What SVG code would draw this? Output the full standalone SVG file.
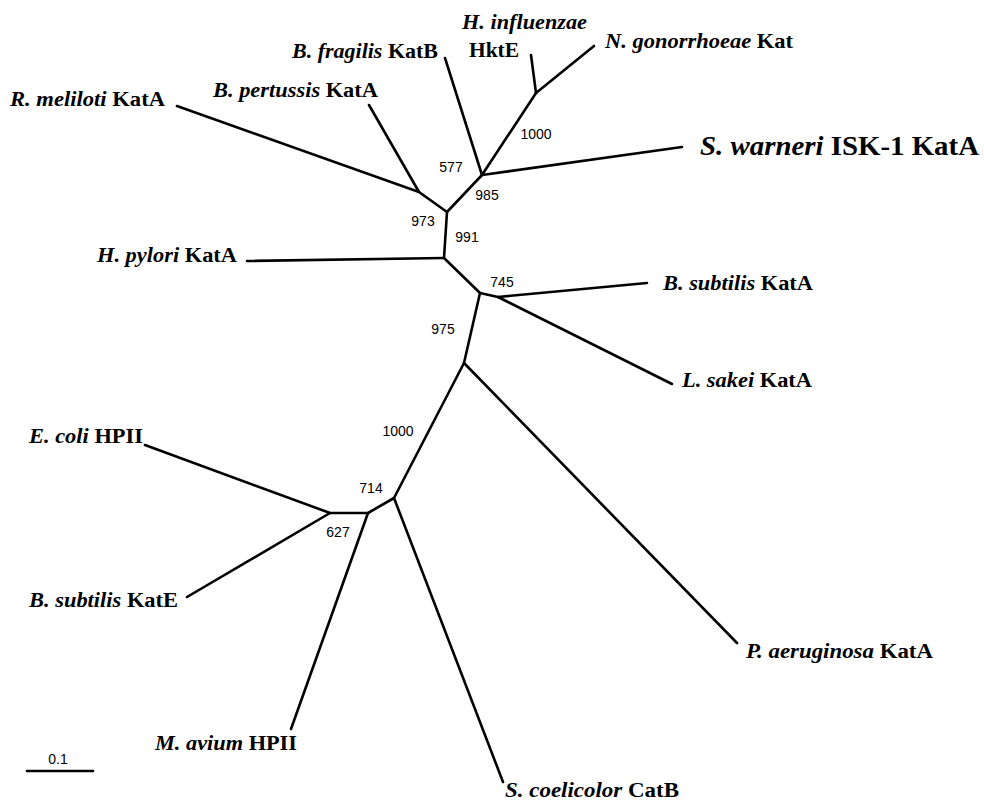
<svg xmlns="http://www.w3.org/2000/svg" width="984" height="801" viewBox="0 0 984 801">
<style>
.tip{font-family:"Liberation Serif","Times New Roman",serif;font-size:20px;font-weight:bold;fill:#000}
.sp{font-style:italic}
.big{font-size:28px}
.bs{font-family:"Liberation Sans",Arial,sans-serif;font-size:14px;fill:#000;text-anchor:middle}
.br{stroke:#000;stroke-width:2.6;fill:none;stroke-linecap:round;stroke-linejoin:round}
</style>
<rect width="984" height="801" fill="#fff"/>
<g id="connectors" class="br">
<polyline points="177,106 419,192 447,212"/>
<line x1="369" y1="105" x2="419" y2="192"/>
<polyline points="445,58 482,175 447,212 444,258 480,293 498,297 647,283"/>
<line x1="482" y1="175" x2="536" y2="93"/>
<line x1="536" y1="93" x2="531" y2="55"/>
<line x1="536" y1="93" x2="594" y2="46"/>
<line x1="482" y1="175" x2="682" y2="147"/>
<line x1="444" y1="258" x2="247" y2="261"/>
<line x1="498" y1="297" x2="672" y2="384"/>
<polyline points="480,293 464,363 394,498 368,513 330,513 145,445"/>
<line x1="464" y1="363" x2="737" y2="643"/>
<line x1="394" y1="498" x2="503" y2="782"/>
<line x1="368" y1="513" x2="291" y2="729"/>
<line x1="330" y1="513" x2="187" y2="597"/>
</g>
<g id="bootstrap">
<text class="bs" x="536" y="139">1000</text>
<text class="bs" x="451" y="172">577</text>
<text class="bs" x="487" y="200">985</text>
<text class="bs" x="423" y="226">973</text>
<text class="bs" x="467" y="242">991</text>
<text class="bs" x="502" y="287">745</text>
<text class="bs" x="443" y="334">975</text>
<text class="bs" x="398" y="436">1000</text>
<text class="bs" x="371" y="493">714</text>
<text class="bs" x="338" y="537">627</text>
</g>
<g id="h-influenzae"><text class="tip sp" x="462" y="29" textLength="125" lengthAdjust="spacingAndGlyphs">H. influenzae</text><text class="tip" x="469" y="57" textLength="50" lengthAdjust="spacingAndGlyphs">HktE</text></g>
<g id="b-fragilis"><text class="tip" x="292" y="58" textLength="146" lengthAdjust="spacingAndGlyphs"><tspan class="sp">B. fragilis</tspan> KatB</text></g>
<g id="n-gonorrhoeae"><text class="tip" x="605" y="48" textLength="188" lengthAdjust="spacingAndGlyphs"><tspan class="sp">N. gonorrhoeae</tspan> Kat</text></g>
<g id="r-meliloti"><text class="tip" x="10" y="106" textLength="155" lengthAdjust="spacingAndGlyphs"><tspan class="sp">R. meliloti</tspan> KatA</text></g>
<g id="b-pertussis"><text class="tip" x="213" y="97" textLength="165" lengthAdjust="spacingAndGlyphs"><tspan class="sp">B. pertussis</tspan> KatA</text></g>
<g id="s-warneri"><text class="tip big" x="700" y="155" textLength="279" lengthAdjust="spacingAndGlyphs"><tspan class="sp">S. warneri</tspan> ISK-1 KatA</text></g>
<g id="h-pylori"><text class="tip" x="97" y="262" textLength="140" lengthAdjust="spacingAndGlyphs"><tspan class="sp">H. pylori</tspan> KatA</text></g>
<g id="b-subtilis-kata"><text class="tip" x="663" y="290" textLength="150" lengthAdjust="spacingAndGlyphs"><tspan class="sp">B. subtilis</tspan> KatA</text></g>
<g id="l-sakei"><text class="tip" x="682" y="387" textLength="130" lengthAdjust="spacingAndGlyphs"><tspan class="sp">L. sakei</tspan> KatA</text></g>
<g id="e-coli"><text class="tip" x="29" y="443" textLength="114" lengthAdjust="spacingAndGlyphs"><tspan class="sp">E. coli</tspan> HPII</text></g>
<g id="b-subtilis-kate"><text class="tip" x="29" y="607" textLength="149" lengthAdjust="spacingAndGlyphs"><tspan class="sp">B. subtilis</tspan> KatE</text></g>
<g id="p-aeruginosa"><text class="tip" x="746" y="658" textLength="187" lengthAdjust="spacingAndGlyphs"><tspan class="sp">P. aeruginosa</tspan> KatA</text></g>
<g id="m-avium"><text class="tip" x="155" y="750" textLength="142" lengthAdjust="spacingAndGlyphs"><tspan class="sp">M. avium</tspan> HPII</text></g>
<g id="s-coelicolor"><text class="tip" x="505" y="797" textLength="174" lengthAdjust="spacingAndGlyphs"><tspan class="sp">S. coelicolor</tspan> CatB</text></g>
<g id="scale-bar">
<line class="br" x1="27" y1="771" x2="93" y2="771"/>
<text class="bs" x="58" y="764">0.1</text>
</g>
</svg>
